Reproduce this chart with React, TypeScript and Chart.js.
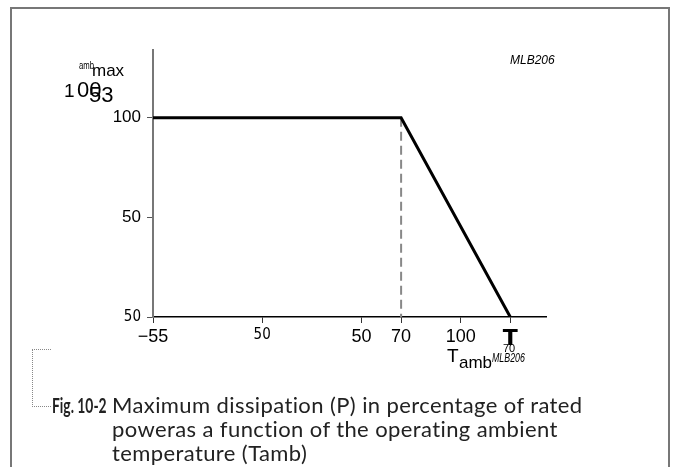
import React, { useEffect, useRef } from "react";
import { Chart, registerables } from "chart.js";

Chart.register(...registerables);

// Derating curve: maximum dissipation (% of rated power) vs ambient temperature
const curveTemps = [-55, 70, 125];
const curvePower = [100, 100, 0];
// Dashed marker at the knee
const kneeTemps = [70, 70];
const kneePower = [100, 0];
// Axis ticks (labels as printed in the figure)
const xTickValues = [-55, 0, 50, 70, 100, 125];
const xTickLabels = ["\u221255", "50", "50", "70", "100", "T"];
const yTickValues = [0, 50, 100];
const yTickLabels = ["50", "50", "100"];

const SANS = "'Liberation Sans', Arial, Helvetica, sans-serif";
const NARROW = "'Liberation Sans Narrow', 'DejaVu Sans Condensed', sans-serif";

function squeezed(ctx: any, text: string, x: number, y: number, sx: number) {
  ctx.save();
  ctx.translate(x, y);
  ctx.scale(sx, 1);
  ctx.fillText(text, 0, 0);
  ctx.restore();
}

const annotations = {
  id: "annotations",
  afterDraw(chart: any) {
    const ctx = chart.ctx;
    ctx.save();
    ctx.fillStyle = "#000";
    ctx.textBaseline = "alphabetic";
    ctx.textAlign = "left";
    // y axis title fragments
    ctx.font = `11px ${SANS}`;
    squeezed(ctx, "amb", 79, 69, 0.7);
    ctx.font = `17px ${SANS}`;
    ctx.fillText("max", 92, 76);
    ctx.font = `19px ${SANS}`;
    ctx.fillText("1", 64, 97);
    ctx.font = `22px ${SANS}`;
    ctx.fillText("00", 77, 97);
    ctx.fillText("53", 89, 102);
    // figure code
    ctx.font = `italic 12px ${SANS}`;
    ctx.fillText("MLB206", 510, 64);
    // x axis title fragments
    ctx.font = `11px ${SANS}`;
    ctx.fillText("70", 503, 352);
    ctx.font = `19px ${SANS}`;
    ctx.fillText("T", 447, 362);
    ctx.font = `17px ${SANS}`;
    ctx.fillText("amb", 459, 368);
    ctx.font = `italic 13px ${SANS}`;
    squeezed(ctx, "MLB206", 492, 362, 0.68);
    ctx.restore();
  },
};

export default function App() {
  const ref = useRef<HTMLCanvasElement | null>(null);

  useEffect(() => {
    if (!ref.current) return;
    const chart = new Chart(ref.current, {
      type: "line",
      data: {
        datasets: [
          {
            data: curveTemps.map((t, i) => ({ x: t, y: curvePower[i] })),
            borderColor: "#000",
            borderWidth: 3,
            pointRadius: 0,
            tension: 0,
            fill: false,
          },
          {
            data: kneeTemps.map((t, i) => ({ x: t, y: kneePower[i] })),
            borderColor: "#888",
            borderWidth: 2,
            borderDash: [9, 5],
            pointRadius: 0,
            fill: false,
          },
        ],
      },
      plugins: [annotations],
      options: {
        animation: false,
        responsive: false,
        devicePixelRatio: 1,
        layout: { padding: { left: 0, top: 50, right: 129, bottom: 90 } },
        plugins: { legend: { display: false }, tooltip: { enabled: false }, title: { display: false } },
        scales: {
          x: {
            type: "linear",
            min: -55,
            max: 143,
            afterBuildTicks: (scale: any) => {
              scale.ticks = xTickValues.map((v) => ({ value: v }));
            },
            afterFit: (scale: any) => {
              scale.height = 60;
            },
            ticks: {
              autoSkip: false,
              maxRotation: 0,
              padding: 3,
              color: "#000",
              callback: (v: any) => {
                const i = xTickValues.indexOf(Number(v));
                return i >= 0 ? xTickLabels[i] : "";
              },
              font: (c: any) => {
                const i = c.index;
                if (i === 1) return { family: NARROW, size: 15 };
                if (i === 5) return { family: "'DejaVu Sans'", size: 22, weight: "bold" };
                return { family: SANS, size: 18 };
              },
            },
            grid: { drawOnChartArea: false, drawTicks: true, tickLength: 6, color: "#333", lineWidth: 1 },
            border: { display: true, color: "#000", width: 1.5 },
          },
          y: {
            type: "linear",
            min: 0,
            max: 134,
            afterBuildTicks: (scale: any) => {
              scale.ticks = yTickValues.map((v) => ({ value: v }));
            },
            afterFit: (scale: any) => {
              scale.width = 153;
            },
            ticks: {
              autoSkip: false,
              padding: 6,
              color: "#000",
              callback: (v: any) => {
                const i = yTickValues.indexOf(Number(v));
                return i >= 0 ? yTickLabels[i] : "";
              },
              font: (c: any) => {
                if (c.index === 0) return { family: NARROW, size: 15 };
                return { family: SANS, size: 17 };
              },
            },
            grid: { drawOnChartArea: false, drawTicks: true, tickLength: 6, color: "#555", lineWidth: 1 },
            border: { display: true, color: "#777", width: 2 },
          },
        },
      },
    });
    return () => chart.destroy();
  }, []);

  return (
    <div style={{ position: "absolute", left: 0, top: 0, width: 675, height: 467, overflow: "hidden", background: "#fff" }}>
      <div
        style={{
          position: "absolute",
          left: 10,
          top: 7,
          width: 656,
          height: 480,
          borderLeft: "2px solid #777",
          borderTop: "2px solid #777",
          borderRight: "2px solid #777",
        }}
      />
      <canvas ref={ref} width={675} height={467} style={{ position: "absolute", left: 0, top: 0, width: 675, height: 467 }} />
      <div
        style={{
          position: "absolute",
          left: 32,
          top: 349,
          width: 18,
          height: 56,
          borderLeft: "1px dotted #888",
          borderTop: "1px dotted #888",
          borderBottom: "1px dotted #888",
        }}
      />
      <div
        style={{
          position: "absolute",
          left: 52,
          top: 393,
          fontFamily: "Lato, 'Open Sans', sans-serif",
          fontWeight: 700,
          fontSize: 21,
          lineHeight: "24px",
          color: "#222",
          whiteSpace: "nowrap",
          transform: "scaleX(0.66)",
          transformOrigin: "left top",
        }}
      >
        Fig. 10-2
      </div>
      <div
        style={{
          position: "absolute",
          left: 112,
          top: 393,
          width: 560,
          fontFamily: "Lato, 'Open Sans', sans-serif",
          fontSize: 22,
          letterSpacing: "0.4px",
          lineHeight: "24px",
          color: "#222",
          whiteSpace: "nowrap",
        }}
      >
        Maximum dissipation (P) in percentage of rated
        <br />
        poweras a function of the operating ambient
        <br />
        temperature (Tamb)
      </div>
    </div>
  );
}
